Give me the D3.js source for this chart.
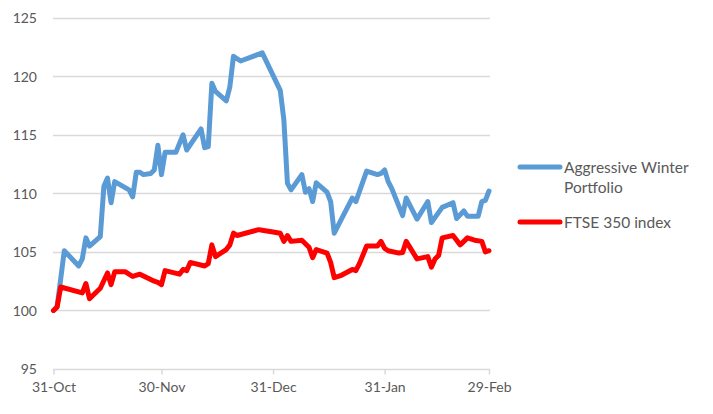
<!DOCTYPE html>
<html><head><meta charset="utf-8">
<script src="https://cdn.jsdelivr.net/npm/d3@7"></script>
<style>
html,body{margin:0;padding:0;background:#fff;}
text{font-family:Lato,"Open Sans",sans-serif;fill:#595959;}
</style></head>
<body>
<svg id="chart" width="713" height="414"></svg>
<script>
const seriesNames = ["Aggressive Winter Portfolio", "FTSE 350 index"];
const yTicks = [95, 100, 105, 110, 115, 120, 125];
const xTickDates = ["2015-10-31", "2015-11-30", "2015-12-31", "2016-01-31", "2016-02-29"];

const portfolioDates = ["2015-10-31","2015-11-01","2015-11-02","2015-11-03","2015-11-07","2015-11-08","2015-11-09","2015-11-10","2015-11-13","2015-11-14","2015-11-15","2015-11-16","2015-11-17","2015-11-21","2015-11-22","2015-11-23","2015-11-24","2015-11-25","2015-11-27","2015-11-28","2015-11-29","2015-11-30","2015-12-01","2015-12-04","2015-12-06","2015-12-07","2015-12-11","2015-12-12","2015-12-13","2015-12-14","2015-12-15","2015-12-18","2015-12-19","2015-12-20","2015-12-22","2015-12-28","2016-01-02","2016-01-03","2016-01-04","2016-01-05","2016-01-08","2016-01-09","2016-01-10","2016-01-11","2016-01-12","2016-01-15","2016-01-16","2016-01-17","2016-01-22","2016-01-23","2016-01-26","2016-01-29","2016-01-30","2016-01-31","2016-02-01","2016-02-02","2016-02-05","2016-02-06","2016-02-09","2016-02-12","2016-02-13","2016-02-16","2016-02-19","2016-02-20","2016-02-22","2016-02-23","2016-02-26","2016-02-27","2016-02-28","2016-02-29"];
const portfolioValues = [100.0,100.3,102.7,105.1,103.8,104.4,106.2,105.5,106.3,110.6,111.3,109.2,111.0,110.3,109.7,111.8,111.8,111.6,111.7,112.0,114.1,111.6,113.5,113.5,115.0,113.7,115.5,113.9,114.0,119.4,118.7,117.9,119.1,121.7,121.3,122.0,118.8,116.3,110.85,110.3,111.6,110.1,110.4,109.3,110.9,110.1,109.3,106.6,109.6,109.3,111.9,111.6,111.7,112.0,111.0,110.4,108.1,109.6,107.8,109.3,107.5,108.8,109.2,107.85,108.5,108.05,108.05,109.3,109.4,110.2];

const ftseDates = ["2015-10-31","2015-11-01","2015-11-02","2015-11-08","2015-11-09","2015-11-10","2015-11-13","2015-11-15","2015-11-16","2015-11-17","2015-11-20","2015-11-22","2015-11-24","2015-11-28","2015-11-29","2015-11-30","2015-12-01","2015-12-05","2015-12-06","2015-12-07","2015-12-08","2015-12-12","2015-12-13","2015-12-14","2015-12-15","2015-12-18","2015-12-19","2015-12-20","2015-12-21","2015-12-27","2015-12-28","2015-12-31","2016-01-02","2016-01-03","2016-01-04","2016-01-05","2016-01-08","2016-01-10","2016-01-11","2016-01-12","2016-01-15","2016-01-16","2016-01-17","2016-01-19","2016-01-22","2016-01-23","2016-01-24","2016-01-26","2016-01-29","2016-01-30","2016-01-31","2016-02-01","2016-02-04","2016-02-05","2016-02-06","2016-02-09","2016-02-12","2016-02-13","2016-02-14","2016-02-15","2016-02-16","2016-02-19","2016-02-21","2016-02-23","2016-02-25","2016-02-27","2016-02-28","2016-02-29"];
const ftseValues = [100.0,100.3,102.0,101.5,102.3,101.0,101.9,103.2,102.2,103.3,103.3,102.9,103.1,102.5,102.4,102.2,103.4,103.1,103.5,103.4,104.1,103.8,104.0,105.6,104.6,105.2,105.6,106.6,106.4,106.9,106.85,106.7,106.6,105.9,106.4,105.9,106.0,105.4,104.5,105.2,104.9,104.1,102.8,103.0,103.5,103.4,104.0,105.5,105.5,105.9,105.3,105.1,104.9,104.95,105.9,104.4,104.6,103.7,104.4,104.7,106.2,106.4,105.6,106.2,106.0,105.9,105.0,105.1];

const colors = ["#5B9BD5", "#FF0000"];

const parse = d3.utcParse("%Y-%m-%d");
const fmt = d3.utcFormat("%d-%b");
const svg = d3.select("#chart");

const x = d3.scaleUtc().domain([parse("2015-10-31"), parse("2016-02-29")]).range([53.5, 489]);
const y = d3.scaleLinear().domain([95, 125]).range([369, 17.7]);

// gridlines
svg.append("g").selectAll("line").data(yTicks.filter(v => v !== 95)).join("line")
  .attr("x1", 53).attr("x2", 490)
  .attr("y1", d => Math.round(y(d)) + 0.5).attr("y2", d => Math.round(y(d)) + 0.5)
  .attr("stroke", "#D9D9D9").attr("stroke-width", 1.5);

// y axis labels
const yAxis = d3.axisLeft(y).tickValues(yTicks).tickSize(0).tickPadding(0);
const gy = svg.append("g").attr("transform", "translate(37,0)").call(yAxis);
gy.select(".domain").remove();
gy.selectAll("text").style("font-size", "14px").attr("fill", "#595959").attr("dy", "0.35em").attr("x", 0);

// x axis
const xAxis = d3.axisBottom(x).tickValues(xTickDates.map(parse)).tickFormat(fmt).tickSize(5).tickSizeOuter(0).tickPadding(8);
const gx = svg.append("g").attr("transform", `translate(0,${Math.round(y(95)) + 0.5})`).call(xAxis);
gx.select(".domain").attr("stroke", "#D9D9D9").attr("stroke-width", 1.5).attr("d", `M53,0H490`);
gx.selectAll(".tick line").attr("stroke", "#D9D9D9").attr("stroke-width", 1.5);
gx.selectAll("text").style("font-size", "14px").attr("fill", "#595959");

const line = d3.line().x(d => x(d[0])).y(d => y(d[1]));
const series = [
  portfolioDates.map((d, i) => [parse(d), portfolioValues[i]]),
  ftseDates.map((d, i) => [parse(d), ftseValues[i]])
];
series.forEach((s, i) => {
  svg.append("path").datum(s).attr("d", line)
    .attr("fill", "none").attr("stroke", colors[i]).attr("stroke-width", 5)
    .attr("stroke-linejoin", "round").attr("stroke-linecap", "round");
});

// legend
const legend = svg.append("g");
const legendY = [167, 222];
seriesNames.forEach((n, i) => {
  legend.append("line").attr("x1", 520).attr("x2", 560).attr("y1", legendY[i]).attr("y2", legendY[i])
    .attr("stroke", colors[i]).attr("stroke-width", 5).attr("stroke-linecap", "round");
});
const t1 = legend.append("text").attr("x", 564).attr("y", 172.5).style("font-size", "15.5px");
t1.append("tspan").attr("x", 564).text("Aggressive Winter");
t1.append("tspan").attr("x", 564).attr("dy", 20).text("Portfolio");
legend.append("text").attr("x", 564).attr("y", 227.5).style("font-size", "15.5px").text(seriesNames[1]);
</script>
</body></html>
